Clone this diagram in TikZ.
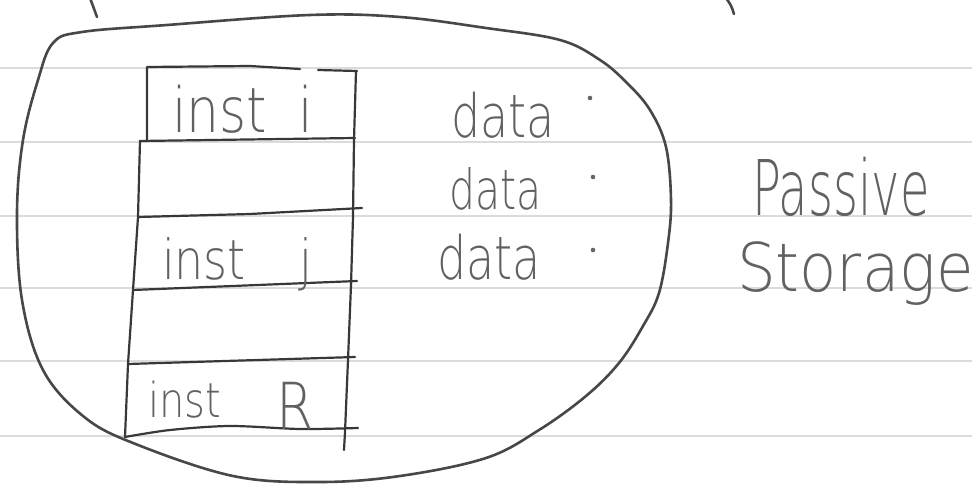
\documentclass[tikz,border=0pt]{standalone}
\usepackage{fontspec}
\setmainfont{DejaVu Sans ExtraLight}
% taller-than-wide handwriting look
\newcommand{\handtall}[2]{\scalebox{1}[#1]{#2}}
\begin{document}
\begin{tikzpicture}[x=1pt,y=-1pt,
  rule/.style={draw=black!14, line width=1.8pt},
  pen/.style={draw=black!72, line width=2.6pt, line cap=round, line join=round},
  boxpen/.style={draw=black!78, line width=2.2pt, line cap=round, line join=round},
  hand/.style={text=black!62, inner sep=0pt, outer sep=0pt, anchor=base west},
  dot/.style={fill=black!60, draw=none}]
% paper
\fill[white] (0,0) rectangle (972,486);
\useasboundingbox (0,0) rectangle (972,486);
\foreach \yy in {68,142,216,288,361,436} \draw[rule] (0,\yy) -- (972,\yy);

% strokes of an upper bracket, cut off at the top edge
\draw[pen] (90,-2) .. controls (93,6) .. (97,17);
\draw[pen] (726,-2) .. controls (731,5) .. (734,14);

% the storage blob
\draw[pen] plot[smooth cycle, tension=0.6] coordinates {
  (82,32) (167,25) (310,15) (400,17) (486,28) (560,40) (600,60) (627,83)
  (650,110) (666,147) (671,200) (668,243) (659,293) (643,326) (619,363)
  (586,396) (539,430) (486,458) (400,476) (320,482) (233,476) (133,443)
  (83,416) (43,370) (22,300) (17,213) (23,140) (38,80) (53,43)};

% memory column
\draw[boxpen] (147,140) -- (147,67) -- (250,66) -- (300,69);
\draw[boxpen] (318,70) -- (357,71);
\draw[boxpen] (356,71) -- (354,140) -- (353,217) -- (351,285) -- (348,360) -- (345,432) -- (344,450);
\draw[boxpen] (140,141) -- (138,217) -- (133,290) -- (128,364) -- (125,437);
\draw[boxpen] (140,141) -- (355,138);
\draw[boxpen] (138,217) -- (250,214) -- (362,208);
\draw[boxpen] (133,290) -- (357,281);
\draw[boxpen] (128,364) -- (355,357);
\draw[boxpen] plot[smooth, tension=0.5] coordinates {(125,437) (170,430) (230,426) (300,429) (358,428)};

% instruction labels
\node[hand, font=\fontsize{52}{52}\selectfont] (instI) at (172,133) {\handtall{1.2}{inst\hspace{32pt}i}};
\node[hand, font=\fontsize{46}{46}\selectfont] (instJ) at (162,280) {\handtall{1.2}{inst\hspace{54pt}j}};
\node[hand, font=\fontsize{40}{40}\selectfont] (instR) at (148,417) {\handtall{1.2}{inst\hspace{56pt}\raisebox{-10pt}{\fontsize{54}{54}\selectfont R}}};

% data labels with their dots
\node[hand, font=\fontsize{46}{46}\selectfont] (dataA) at (451,138) {\handtall{1.3}{data}};
\node[hand, font=\fontsize{41}{41}\selectfont] (dataB) at (449,210) {\handtall{1.35}{data}};
\node[hand, font=\fontsize{46}{46}\selectfont] (dataC) at (437,280) {\handtall{1.3}{data}};
\fill[dot] (590,98) circle (2.3);
\fill[dot] (593,177) circle (2.3);
\fill[dot] (593,250) circle (2.3);

% side caption
\node[hand, font=\fontsize{48}{48}\selectfont] (passive) at (752,216) {\handtall{1.6}{Passive}};
\node[hand, font=\fontsize{61}{61}\selectfont] (storage) at (737,292) {\handtall{1.1}{Storage}};
\end{tikzpicture}
\end{document}
